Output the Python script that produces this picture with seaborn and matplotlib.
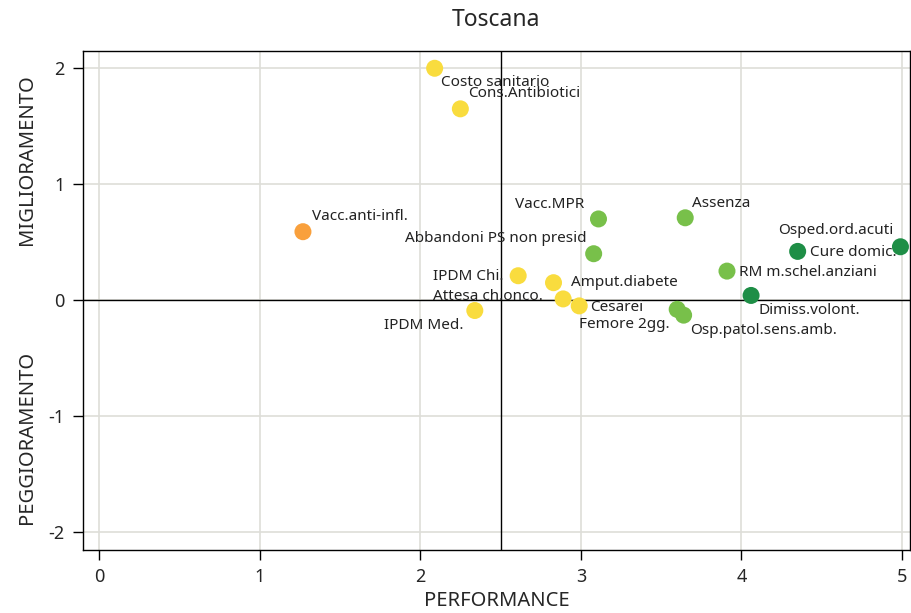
"""
Toscana — matrice performance / miglioramento
"""

import matplotlib
matplotlib.use("Agg")

import matplotlib.pyplot as plt
import pandas as pd
import seaborn as sns

indicatori = [
    "Costo sanitario", "Cons.Antibiotici", "Vacc.anti-infl.", "Vacc.MPR",
    "Abbandoni PS non presid", "Assenza", "Osped.ord.acuti", "Cure domic.",
    "RM m.schel.anziani", "Dimiss.volont.", "IPDM Chi.", "Amput.diabete",
    "Attesa ch.onco.", "Cesarei", "Femore 2gg.", "Osp.patol.sens.amb.",
    "IPDM Med.",
]
performance = [
    2.09, 2.25, 1.27, 3.11,
    3.08, 3.65, 4.99, 4.35,
    3.91, 4.06, 2.61, 2.83,
    2.89, 2.99, 3.60, 3.64,
    2.34,
]
miglioramento = [
    2.00, 1.65, 0.59, 0.70,
    0.40, 0.71, 0.46, 0.42,
    0.25, 0.04, 0.21, 0.15,
    0.01, -0.05, -0.08, -0.13,
    -0.09,
]
fascia = [
    "2-3", "2-3", "1-2", "3-4",
    "3-4", "3-4", "4-5", "4-5",
    "3-4", "4-5", "2-3", "2-3",
    "2-3", "2-3", "3-4", "3-4",
    "2-3",
]

PALETTE = {"1-2": "#F9A03C", "2-3": "#F9DC3E", "3-4": "#78C04A", "4-5": "#1E8E46"}

# posizione etichette: (dx, dy) in pixel, allineamento orizzontale
LABEL_POS = {
    "Costo sanitario": (6, -14, "left"),
    "Cons.Antibiotici": (8, 15, "left"),
    "Vacc.anti-infl.": (9, 15, "left"),
    "Vacc.MPR": (-14, 14, "right"),
    "Abbandoni PS non presid": (-7, 15, "right"),
    "Assenza": (7, 14, "left"),
    "Osped.ord.acuti": (-7, 16, "right"),
    "Cure domic.": (12, -1, "left"),
    "RM m.schel.anziani": (12, -1, "left"),
    "Dimiss.volont.": (7, -15, "left"),
    "IPDM Chi.": (-15, -1, "right"),
    "Amput.diabete": (17, 0, "left"),
    "Attesa ch.onco.": (-20, 2, "right"),
    "Cesarei": (11, -2, "left"),
    "Femore 2gg.": (-8, -15, "right"),
    "Osp.patol.sens.amb.": (7, -15, "left"),
    "IPDM Med.": (-11, -15, "right"),
}

df = pd.DataFrame({
    "indicatore": indicatori,
    "performance": performance,
    "miglioramento": miglioramento,
    "fascia": fascia,
})

sns.set_theme(style="white")
plt.rcParams["font.family"] = ["Noto Sans", "DejaVu Sans"]
plt.rcParams["axes.unicode_minus"] = False

fig = plt.figure(figsize=(9.11, 6.13), dpi=100)
ax = fig.add_axes([0.091, 0.103, 0.908, 0.814])

ax.grid(True, color="#DEDED8", linewidth=1.2)
ax.set_axisbelow(True)
ax.axvline(2.5, color="black", linewidth=1, zorder=1.5)
ax.axhline(0, color="black", linewidth=1, zorder=1.5)

sns.scatterplot(
    data=df, x="performance", y="miglioramento", hue="fascia",
    palette=PALETTE, s=150, edgecolor="none", legend=False, ax=ax, zorder=3,
)

for _, row in df.iterrows():
    dx, dy, ha = LABEL_POS[row["indicatore"]]
    ax.annotate(
        row["indicatore"], (row["performance"], row["miglioramento"]),
        xytext=(dx, dy), textcoords="offset pixels",
        ha=ha, va="center", fontsize=11, color="#222222", zorder=4,
    )

ax.set_xlim(-0.1, 5.05)
ax.set_ylim(-2.155, 2.15)
ax.set_xticks(range(0, 6))
ax.set_yticks(range(-2, 3))
ax.tick_params(axis="both", direction="out", length=7, width=1, color="black",
               labelsize=13, pad=6, bottom=True, left=True)
for sp in ax.spines.values():
    sp.set_color("black")
    sp.set_linewidth(1)

ax.set_xlabel("")
ax.set_ylabel("")

fig.text(0.5 * (83 + 910) / 911, 1 - 601 / 613, "PERFORMANCE", ha="center",
         va="center", fontsize=14.5)
fig.text(27 / 911, 1 - 160 / 613, "MIGLIORAMENTO", rotation=90, ha="center",
         va="center", fontsize=14.5)
fig.text(27 / 911, 1 - 437 / 613, "PEGGIORAMENTO", rotation=90, ha="center",
         va="center", fontsize=14.5)
fig.text(0.5 * (83 + 910) / 911, 1 - 20 / 613, "Toscana", ha="center",
         va="center", fontsize=16.5)

fig.savefig("out.png", dpi=100)
